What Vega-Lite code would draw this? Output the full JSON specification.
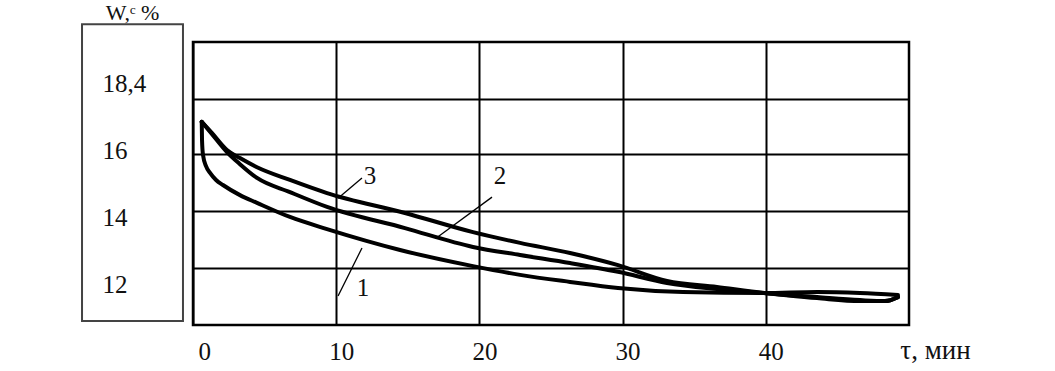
{
  "$schema": "https://vega.github.io/schema/vega-lite/v6.json",
  "width": 716,
  "height": 283,
  "autosize": {"type": "none"},
  "padding": {"left": 193, "top": 42, "right": 146, "bottom": 46},
  "background": "white",
  "config": {
    "view": {"stroke": "black", "strokeWidth": 2.5},
    "font": "Liberation Serif",
    "axis": {"labelFont": "Liberation Serif", "titleFont": "Liberation Serif", "labelColor": "#111", "titleColor": "#111"}
  },
  "datasets": {
    "curves": [
      {"curve": "1", "t": 0.61, "w": 16.85},
      {"curve": "1", "t": 0.63, "w": 16.31},
      {"curve": "1", "t": 0.70, "w": 15.86},
      {"curve": "1", "t": 0.91, "w": 15.53},
      {"curve": "1", "t": 1.19, "w": 15.33},
      {"curve": "1", "t": 1.61, "w": 15.12},
      {"curve": "1", "t": 2.09, "w": 14.97},
      {"curve": "1", "t": 3.28, "w": 14.67},
      {"curve": "1", "t": 4.47, "w": 14.44},
      {"curve": "1", "t": 6.77, "w": 14.02},
      {"curve": "1", "t": 9.36, "w": 13.66},
      {"curve": "1", "t": 14.46, "w": 13.04},
      {"curve": "1", "t": 19.55, "w": 12.56},
      {"curve": "1", "t": 22.84, "w": 12.30},
      {"curve": "1", "t": 26.33, "w": 12.09},
      {"curve": "1", "t": 29.68, "w": 11.91},
      {"curve": "1", "t": 34.22, "w": 11.79},
      {"curve": "1", "t": 39.87, "w": 11.76},
      {"curve": "1", "t": 43.58, "w": 11.79},
      {"curve": "1", "t": 46.58, "w": 11.76},
      {"curve": "1", "t": 49.23, "w": 11.70},
      {"curve": "2", "t": 0.61, "w": 16.85},
      {"curve": "2", "t": 1.33, "w": 16.48},
      {"curve": "2", "t": 2.37, "w": 15.95},
      {"curve": "2", "t": 3.28, "w": 15.59},
      {"curve": "2", "t": 4.47, "w": 15.18},
      {"curve": "2", "t": 6.77, "w": 14.76},
      {"curve": "2", "t": 9.36, "w": 14.32},
      {"curve": "2", "t": 14.80, "w": 13.69},
      {"curve": "2", "t": 19.55, "w": 13.13},
      {"curve": "2", "t": 22.84, "w": 12.89},
      {"curve": "2", "t": 26.33, "w": 12.65},
      {"curve": "2", "t": 29.68, "w": 12.39},
      {"curve": "2", "t": 33.10, "w": 12.06},
      {"curve": "2", "t": 36.59, "w": 11.88},
      {"curve": "2", "t": 39.87, "w": 11.76},
      {"curve": "2", "t": 43.58, "w": 11.61},
      {"curve": "2", "t": 46.58, "w": 11.52},
      {"curve": "2", "t": 48.32, "w": 11.52},
      {"curve": "2", "t": 49.23, "w": 11.64},
      {"curve": "3", "t": 0.61, "w": 16.85},
      {"curve": "3", "t": 1.33, "w": 16.51},
      {"curve": "3", "t": 2.37, "w": 16.01},
      {"curve": "3", "t": 3.28, "w": 15.77},
      {"curve": "3", "t": 4.47, "w": 15.50},
      {"curve": "3", "t": 6.77, "w": 15.12},
      {"curve": "3", "t": 9.36, "w": 14.73},
      {"curve": "3", "t": 14.80, "w": 14.14},
      {"curve": "3", "t": 19.55, "w": 13.57},
      {"curve": "3", "t": 22.84, "w": 13.25},
      {"curve": "3", "t": 26.33, "w": 12.95},
      {"curve": "3", "t": 29.68, "w": 12.59},
      {"curve": "3", "t": 33.10, "w": 12.12},
      {"curve": "3", "t": 36.59, "w": 11.94},
      {"curve": "3", "t": 39.87, "w": 11.76},
      {"curve": "3", "t": 43.58, "w": 11.64},
      {"curve": "3", "t": 46.58, "w": 11.55},
      {"curve": "3", "t": 48.32, "w": 11.52},
      {"curve": "3", "t": 49.23, "w": 11.64}
    ],
    "notes": [
      {"n": "3", "tx": 12.36, "ty": 15.24, "lx1": 10.13, "ly1": 14.58, "lx2": 11.80, "ly2": 15.18},
      {"n": "2", "tx": 21.44, "ty": 15.24, "lx1": 17.11, "ly1": 13.43, "lx2": 20.88, "ly2": 14.61},
      {"n": "1", "tx": 11.87, "ty": 11.91, "lx1": 10.13, "ly1": 11.67, "lx2": 11.80, "ly2": 13.10}
    ]
  },
  "layer": [
    {
      "data": {"name": "curves"},
      "mark": {"type": "line", "interpolate": "monotone", "strokeWidth": 4, "color": "black", "strokeCap": "round", "strokeJoin": "round"},
      "encoding": {
        "x": {
          "field": "t", "type": "quantitative",
          "scale": {"domain": [0, 50], "nice": false, "zero": false},
          "axis": {
            "values": [0, 10, 20, 30, 40],
            "grid": true, "gridColor": "black", "gridWidth": 2, "gridOpacity": 1,
            "ticks": false, "tickSize": 0, "domain": false,
            "labelFontSize": 25, "labelBaseline": "middle", "labelPadding": 26, "labelOffset": 5,
            "labelOverlap": false,
            "title": "τ, мин", "titleX": 742, "titleY": 25, "titleAlign": "center", "titleBaseline": "middle",
            "titleFontSize": 27, "titleFontWeight": "normal"
          }
        },
        "y": {
          "field": "w", "type": "quantitative",
          "scale": {"domain": [10.81, 19.22], "nice": false, "zero": false},
          "axis": {
            "orient": "left",
            "values": [12, 14, 16, 18],
            "labelExpr": "datum.value == 18 ? '18,4' : datum.label",
            "grid": false, "ticks": false, "tickSize": 0, "domain": false,
            "labelAlign": "left", "labelPadding": 91, "labelFontSize": 25, "labelBaseline": "middle",
            "labelOverlap": false,
            "title": "W,ᶜ %", "titleAngle": 0, "titleX": -61, "titleY": -30,
            "titleAlign": "center", "titleBaseline": "middle", "titleFontSize": 22, "titleFontWeight": "normal"
          }
        },
        "detail": {"field": "curve"}
      }
    },
    {
      "data": {"name": "notes"},
      "mark": {"type": "rule", "color": "black", "strokeWidth": 1.3},
      "encoding": {
        "x": {"field": "lx1", "type": "quantitative"},
        "x2": {"field": "lx2"},
        "y": {"field": "ly1", "type": "quantitative", "scale": {"domain": [10.81, 19.22], "nice": false, "zero": false},
          "axis": {"orient": "right", "values": [12.50, 14.20, 15.89, 17.52], "labels": false, "ticks": false, "tickSize": 0, "domain": false,
            "grid": true, "gridColor": "black", "gridWidth": 2, "gridOpacity": 1, "title": null}},
        "y2": {"field": "ly2"}
      }
    },
    {
      "data": {"name": "notes"},
      "mark": {"type": "text", "fontSize": 25, "font": "Liberation Serif", "color": "#111", "baseline": "middle", "align": "center"},
      "encoding": {
        "x": {"field": "tx", "type": "quantitative"},
        "y": {"field": "ty", "type": "quantitative", "scale": {"domain": [10.81, 19.22], "nice": false, "zero": false}, "axis": null},
        "text": {"field": "n"}
      }
    },
    {
      "data": {"values": [{}]},
      "mark": {"type": "rect", "fill": "white", "fillOpacity": 0, "stroke": "#444", "strokeWidth": 2},
      "encoding": {
        "x": {"datum": -7.75, "type": "quantitative"},
        "x2": {"datum": -0.70},
        "y": {"datum": 19.75, "type": "quantitative", "scale": {"domain": [10.81, 19.22], "nice": false, "zero": false}, "axis": null},
        "y2": {"datum": 10.93}
      }
    }
  ],
  "resolve": {"scale": {"y": "independent"}}
}
